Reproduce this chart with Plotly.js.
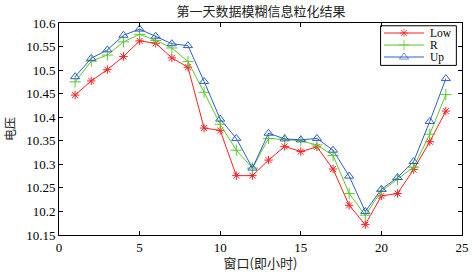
<!DOCTYPE html>
<html>
<head>
<meta charset="utf-8">
<script src="https://cdn.plot.ly/plotly-3.0.1.min.js"></script>
<style>html,body{margin:0;padding:0;background:#fff;}#chart{width:472px;height:272px;}</style>
</head>
<body>
<div id="chart"></div>
<script>
const hours = [1,2,3,4,5,6,7,8,9,10,11,12,13,14,15,16,17,18,19,20,21,22,23,24];
const lowValues = [10.447,10.477,10.501,10.529,10.562,10.557,10.526,10.506,10.377,10.372,10.276,10.276,10.309,10.338,10.327,10.337,10.290,10.213,10.172,10.233,10.238,10.289,10.348,10.413];
const rValues = [10.475,10.519,10.532,10.560,10.576,10.563,10.547,10.518,10.453,10.385,10.330,10.292,10.355,10.353,10.350,10.341,10.319,10.238,10.192,10.243,10.268,10.294,10.364,10.448];
const upValues = [10.486,10.525,10.543,10.574,10.587,10.572,10.556,10.552,10.476,10.396,10.355,10.292,10.366,10.354,10.352,10.355,10.330,10.275,10.200,10.247,10.272,10.306,10.391,10.482];
const seriesNames = ['Low','R','Up'];
const xTicks = [0,5,10,15,20,25];
const yTicks = [10.15,10.2,10.25,10.3,10.35,10.4,10.45,10.5,10.55,10.6];
const yTickText = ['10.15','10.2','10.25','10.3','10.35','10.4','10.45','10.5','10.55','10.6'];

const serif = 'Liberation Serif';
const cjk = 'Noto Sans CJK SC';

const styles = [
  {color: '#ff2020', symbol: 'asterisk-open', size: 7},
  {color: '#5cc82a', symbol: 'cross-thin-open', size: 8},
  {color: '#2f5fc8', symbol: 'triangle-up-open', size: 8}
];
const seriesValues = [lowValues, rValues, upValues];

const traces = seriesValues.map((vals, i) => ({
  x: hours, y: vals, name: seriesNames[i], mode: 'lines+markers', showlegend: false,
  line: {color: styles[i].color, width: 1},
  marker: {symbol: styles[i].symbol, size: styles[i].size, color: styles[i].color,
           line: {color: styles[i].color, width: 1}}
}));

// compact MATLAB-style legend, geometry in plot-fraction units
const leg = {x0: 0.798, x1: 0.986, y0: 0.800, y1: 0.987, lineX0: 0.8065, lineX1: 0.9057, textX: 0.917};
const rowY = [0.9528, 0.8962, 0.8396];
const shapes = [{type: 'rect', xref: 'x2', yref: 'y2', x0: leg.x0, x1: leg.x1, y0: leg.y0, y1: leg.y1,
                 line: {color: '#000', width: 1}, fillcolor: '#fff', layer: 'below'}];
const annotations = [];
seriesNames.forEach((n, i) => {
  traces.push({
    x: [leg.lineX0, (leg.lineX0 + leg.lineX1) / 2, leg.lineX1], y: [rowY[i], rowY[i], rowY[i]],
    xaxis: 'x2', yaxis: 'y2', mode: 'lines+markers', showlegend: false, hoverinfo: 'skip',
    line: {color: styles[i].color, width: 1},
    marker: {symbol: styles[i].symbol, size: [0, styles[i].size, 0], color: styles[i].color,
             line: {color: styles[i].color, width: 1}}
  });
  annotations.push({xref: 'x2', yref: 'y2', x: leg.textX, y: rowY[i], text: n, showarrow: false,
                    xanchor: 'left', yanchor: 'middle', borderpad: 0,
                    font: {family: serif, size: 11.5, color: '#000'}});
});

const axisCommon = {
  showgrid: false, zeroline: false, showline: true, linecolor: '#000', linewidth: 1,
  mirror: 'ticks', ticks: 'inside', ticklen: 4, tickcolor: '#000',
  tickfont: {family: serif, size: 13, color: '#000'}
};

const layout = {
  width: 472, height: 272,
  margin: {l: 59, r: 10, t: 23, b: 37, pad: 0},
  paper_bgcolor: '#fff', plot_bgcolor: '#fff',
  title: {text: '第一天数据模糊信息粒化结果', font: {family: cjk, size: 13, color: '#222'},
          x: 0.553, xanchor: 'center', y: 0.958, yanchor: 'middle'},
  xaxis: Object.assign({}, axisCommon, {
    range: [0, 25], tickvals: xTicks, ticktext: xTicks.map(String),
    title: {text: '窗口(即小时)', font: {family: cjk, size: 13, color: '#222'}, standoff: 2}
  }),
  yaxis: Object.assign({}, axisCommon, {
    range: [10.15, 10.6], tickvals: yTicks, ticktext: yTickText,
    title: {text: '电压', font: {family: cjk, size: 12, color: '#222'}, standoff: 7}
  }),
  xaxis2: {overlaying: 'x', range: [0, 1], visible: false, fixedrange: true},
  yaxis2: {overlaying: 'y', range: [0, 1], visible: false, fixedrange: true},
  shapes: shapes,
  annotations: annotations,
  showlegend: false
};

Plotly.newPlot('chart', traces, layout, {displayModeBar: false, staticPlot: true});
</script>
</body>
</html>
